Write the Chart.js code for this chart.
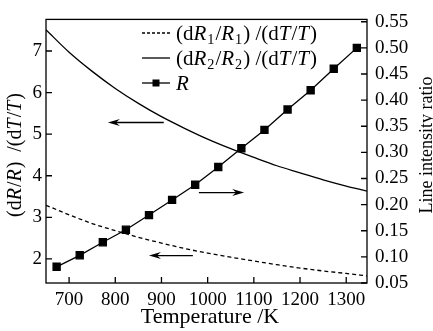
<!DOCTYPE html>
<html>
<head>
<meta charset="utf-8">
<script src="https://cdn.jsdelivr.net/npm/chart.js@4.4.1/dist/chart.umd.min.js"></script>
<style>
    html, body { margin: 0; padding: 0; background: #fff; }
    #wrap { width: 433px; height: 331px; }
</style>
</head>
<body>
<div id="wrap"><canvas id="chart" width="433" height="331"></canvas></div>
<script>
// ---------- Data ----------
const tempGrid = [650, 700, 750, 800, 850, 900, 950, 1000, 1050, 1100, 1150, 1200, 1250, 1300, 1345];
const sensR1 = [3.29, 3.06, 2.85, 2.68, 2.52, 2.38, 2.25, 2.14, 2.04, 1.95, 1.86, 1.78, 1.71, 1.65, 1.59];
const sensR2 = [7.51, 6.97, 6.51, 6.10, 5.74, 5.42, 5.14, 4.88, 4.65, 4.44, 4.24, 4.07, 3.90, 3.75, 3.63];
const tempR = [673, 723, 773, 823, 873, 923, 973, 1023, 1073, 1123, 1173, 1223, 1273, 1323];
const ratioR = [0.081, 0.103, 0.128, 0.152, 0.180, 0.209, 0.238, 0.272, 0.308, 0.343, 0.382, 0.419, 0.460, 0.500];

const xTicks = [700, 800, 900, 1000, 1100, 1200, 1300];
const leftTicks = [2, 3, 4, 5, 6, 7];
const rightTicks = [0.05, 0.10, 0.15, 0.20, 0.25, 0.30, 0.35, 0.40, 0.45, 0.50, 0.55];

// arrows pointing at the axis each curve belongs to: [fromT, toT, value, axis]
const arrows = [
    [905, 784, 5.28, 'y'],
    [981, 1079, 0.223, 'y1'],
    [968, 873, 2.08, 'y']
];

const FONT = '"Liberation Serif", "Times New Roman", serif';
const pts = (xs, ys) => xs.map((x, i) => ({ x, y: ys[i] }));

// ---------- Rich text (italic / subscript pieces) ----------
function setPartFont(ctx, p, size) {
    const s = p.sub ? size * 0.68 : size;
    ctx.font = (p.i ? 'italic ' : '') + s + 'px ' + FONT;
}

function richWidth(ctx, parts, size) {
    let w = 0;
    parts.forEach(p => {
        setPartFont(ctx, p, size);
        w += ctx.measureText(p.t).width + (p.gap || 0);
    });
    return w;
}

function drawRich(ctx, parts, x, y, size) {
    ctx.textBaseline = 'alphabetic';
    ctx.textAlign = 'left';
    parts.forEach(p => {
        setPartFont(ctx, p, size);
        ctx.fillText(p.t, x, y + (p.sub ? size * 0.22 : 0));
        x += ctx.measureText(p.t).width + (p.gap || 0);
    });
}

const ratioParts = (n) => [
    { t: '(d' }, { t: 'R', i: true, gap: 1 }, { t: n, sub: true, gap: 1 }, { t: '/' }, { t: 'R', i: true, gap: 1 }, { t: n, sub: true, gap: 1 },
    { t: ') /(d', gap: 0 }, { t: 'T', i: true, gap: 1 }, { t: '/' }, { t: 'T', i: true, gap: 1 }, { t: ')' }
];
const legendRows = [
    { dash: [3, 2], marker: false, parts: ratioParts('1') },
    { dash: [], marker: false, parts: ratioParts('2') },
    { dash: [], marker: true, parts: [{ t: 'R', i: true }] }
];
const leftTitle = [{ t: '(d' }, { t: 'R', i: true, gap: 1 }, { t: '/' }, { t: 'R', i: true, gap: 1 }, { t: ')  /(d' }, { t: 'T', i: true, gap: 1 }, { t: '/' }, { t: 'T', i: true, gap: 1 }, { t: ')' }];

// ---------- Decorations plugin ----------
const decorations = {
    id: 'decorations',
    afterDraw(chart) {
        const { ctx, chartArea: a, scales } = chart;
        ctx.save();
        ctx.strokeStyle = '#000';
        ctx.fillStyle = '#000';
        ctx.lineWidth = 1.3;

        // frame
        ctx.strokeRect(a.left, a.top, a.right - a.left, a.bottom - a.top);

        // inward tick marks
        const tl = 6;
        ctx.beginPath();
        scales.x.ticks.forEach(t => {
            const px = scales.x.getPixelForValue(t.value);
            ctx.moveTo(px, a.bottom); ctx.lineTo(px, a.bottom - tl);
        });
        scales.y.ticks.forEach(t => {
            const py = scales.y.getPixelForValue(t.value);
            ctx.moveTo(a.left, py); ctx.lineTo(a.left + tl, py);
        });
        scales.y1.ticks.forEach(t => {
            const py = scales.y1.getPixelForValue(t.value);
            ctx.moveTo(a.right, py); ctx.lineTo(a.right - tl, py);
        });
        ctx.stroke();

        // arrows
        arrows.forEach(([from, to, v, axis]) => {
            const x0 = scales.x.getPixelForValue(from);
            const x1 = scales.x.getPixelForValue(to);
            const y = scales[axis].getPixelForValue(v);
            const dir = Math.sign(x1 - x0);
            ctx.beginPath();
            ctx.moveTo(x0, y); ctx.lineTo(x1 - dir * 6, y);
            ctx.stroke();
            ctx.beginPath();
            ctx.moveTo(x1, y);
            ctx.lineTo(x1 - dir * 12, y - 3.5);
            ctx.lineTo(x1 - dir * 8, y);
            ctx.lineTo(x1 - dir * 12, y + 3.5);
            ctx.closePath();
            ctx.fill();
        });

        // legend
        const lx0 = 142, lx1 = 170, tx = 176;
        legendRows.forEach((row, i) => {
            const cy = 33 + i * 25;
            ctx.setLineDash(row.dash);
            ctx.beginPath(); ctx.moveTo(lx0, cy); ctx.lineTo(lx1, cy); ctx.stroke();
            ctx.setLineDash([]);
            if (row.marker) ctx.fillRect((lx0 + lx1) / 2 - 3.5, cy - 3.5, 7, 7);
            drawRich(ctx, row.parts, tx, cy + 6.5, 21);
        });

        // axis titles
        ctx.font = '22px ' + FONT;
        ctx.textAlign = 'center';
        ctx.textBaseline = 'alphabetic';
        ctx.fillText('Temperature /K', 210, 323);

        ctx.save();
        ctx.translate(427, 145);
        ctx.rotate(-Math.PI / 2);
        ctx.font = '18px ' + FONT;
        ctx.textAlign = 'center';
        ctx.textBaseline = 'middle';
        ctx.fillText('Line intensity ratio', 0, 0);
        ctx.restore();

        ctx.save();
        ctx.translate(14, 155);
        ctx.rotate(-Math.PI / 2);
        const w = richWidth(ctx, leftTitle, 20);
        drawRich(ctx, leftTitle, -w / 2, 7, 20);
        ctx.restore();

        ctx.restore();
    }
};

// ---------- Chart ----------
const tickFont = { family: FONT, size: 19 };
const fixWidth = (w) => (s) => { s.width = w; };

new Chart(document.getElementById('chart'), {
    type: 'line',
    data: {
        datasets: [
            { label: '(dR1/R1)/(dT/T)', data: pts(tempGrid, sensR1), yAxisID: 'y', borderColor: '#000', borderWidth: 1.3, borderDash: [4, 3], pointRadius: 0, cubicInterpolationMode: 'monotone' },
            { label: '(dR2/R2)/(dT/T)', data: pts(tempGrid, sensR2), yAxisID: 'y', borderColor: '#000', borderWidth: 1.3, pointRadius: 0, cubicInterpolationMode: 'monotone' },
            { label: 'R', data: pts(tempR, ratioR), yAxisID: 'y1', borderColor: '#000', backgroundColor: '#000', borderWidth: 1.3, pointStyle: 'rect', pointRadius: 5, tension: 0 }
        ]
    },
    options: {
        responsive: false,
        animation: false,
        devicePixelRatio: 1,
        layout: { padding: { top: 13, left: 0, right: 0, bottom: 0 } },
        plugins: { legend: { display: false }, tooltip: { enabled: false } },
        scales: {
            x: {
                type: 'linear', min: 650, max: 1345,
                grid: { display: false, drawTicks: false }, border: { display: false },
                afterBuildTicks: s => { s.ticks = xTicks.map(v => ({ value: v })); },
                afterFit: s => { s.height = 48; },
                ticks: { font: tickFont, color: '#000', padding: 6, maxRotation: 0, autoSkip: false, callback: v => String(v) }
            },
            y: {
                position: 'left', min: 1.42, max: 7.76,
                grid: { display: false, drawTicks: false }, border: { display: false },
                afterBuildTicks: s => { s.ticks = leftTicks.map(v => ({ value: v })); },
                afterFit: fixWidth(46),
                ticks: { font: tickFont, color: '#000', padding: 4 }
            },
            y1: {
                position: 'right', min: 0.05, max: 0.5545,
                grid: { display: false, drawTicks: false }, border: { display: false },
                afterBuildTicks: s => { s.ticks = rightTicks.map(v => ({ value: v })); },
                afterFit: fixWidth(66),
                ticks: { font: tickFont, color: '#000', padding: 8, callback: v => v.toFixed(2) }
            }
        }
    },
    plugins: [decorations]
});
</script>
</body>
</html>
